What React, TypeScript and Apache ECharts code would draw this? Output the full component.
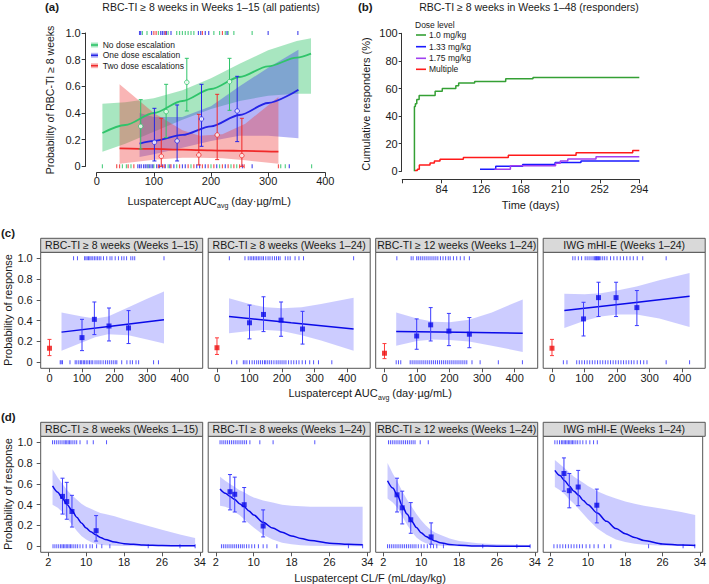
import React, { useEffect, useRef } from "react";
import * as echarts from "echarts";

const FONT = '"Liberation Sans", Arial, Helvetica, sans-serif';

// ===================== Panel (a) =====================
const aGreenCurveX = [10, 50, 100, 150, 200, 250, 300, 350, 375];
const aGreenCurveY = [0.25, 0.31, 0.4, 0.49, 0.58, 0.67, 0.75, 0.815, 0.845];
const aGreenBandHi = [0.47, 0.48, 0.51, 0.57, 0.66, 0.77, 0.87, 0.94, 0.96];
const aGreenBandLo = [0.11, 0.17, 0.26, 0.35, 0.43, 0.49, 0.53, 0.545, 0.545];
const aBlueCurveX = [75, 100, 150, 200, 250, 300, 353];
const aBlueCurveY = [0.17, 0.19, 0.235, 0.3, 0.385, 0.475, 0.575];
const aBlueBandHi = [0.4, 0.37, 0.37, 0.45, 0.6, 0.74, 0.875];
const aBlueBandLo = [0.07, 0.09, 0.14, 0.19, 0.23, 0.23, 0.21];
const aRedCurveX = [40, 100, 150, 180, 220, 260, 318];
const aRedCurveY = [0.135, 0.13, 0.125, 0.122, 0.118, 0.115, 0.11];
const aRedBandHi = [0.615, 0.4, 0.27, 0.23, 0.24, 0.32, 0.52];
const aRedBandLo = [0.02, 0.05, 0.065, 0.065, 0.06, 0.045, 0.02];

const aGreenPtX = [77, 121.5, 157.7, 232.4];
const aGreenPtY = [0.3, 0.41, 0.63, 0.635];
const aGreenPtLo = [0.13, 0.215, 0.415, 0.42];
const aGreenPtHi = [0.5, 0.615, 0.81, 0.81];
const aBluePtX = [101, 140.7, 183.4, 245.8];
const aBluePtY = [0.18, 0.19, 0.355, 0.415];
const aBluePtLo = [0.04, 0.04, 0.15, 0.185];
const aBluePtHi = [0.435, 0.46, 0.615, 0.675];
const aRedPtX = [113, 178.7, 210.8, 254];
const aRedPtY = [0.075, 0.085, 0.235, 0.08];
const aRedPtLo = [0.0, 0.01, 0.05, 0.0];
const aRedPtHi = [0.36, 0.39, 0.54, 0.36];

const aGreenRugTop = [80, 88, 108, 125, 140, 145, 150, 155, 160, 165, 170, 205, 215, 225, 230, 240, 272];
const aBlueRugTop = [75, 77, 96, 112, 115, 118, 122, 130, 178, 182, 190, 196, 228, 300, 352];
const aRedRugTop = [100, 104, 120, 185, 220];
const aGreenRugBot = [10, 45, 52, 60, 90, 100, 125, 140, 165, 200, 215, 235, 245, 322, 330, 376];
const aBlueRugBot = [72, 75, 78, 82, 85, 88, 92, 95, 98, 105, 110, 115, 120, 128, 135, 150, 155, 175, 180, 190, 210, 225, 255, 272, 337];
const aRedRugBot = [35, 40, 55, 65, 108, 118, 130, 145, 160, 170, 185, 195, 205, 220, 230, 240, 250, 258, 318];

const aLegendLabels = ["No dose escalation", "One dose escalation", "Two dose escalations"];

// ===================== Panel (b) =====================
const bGreenX = [55, 55, 56, 57.5, 60, 77, 84.6, 99, 102, 119, 152, 181, 294];
const bGreenY = [0, 47, 49, 52, 55, 58, 60, 62, 64, 65, 67, 68, 68];
const bBlueX = [124.7, 141.4, 170, 204.5, 232, 294];
const bBlueY = [1.4, 3.6, 5.0, 6.3, 7.5, 7.5];
const bPurpleX = [140, 157, 205, 210, 218, 248, 294];
const bPurpleY = [1.4, 4.0, 5.8, 7.5, 9.0, 10.6, 10.6];
const bRedX = [55.6, 58.1, 60.2, 71.6, 76.2, 82.2, 107, 154.8, 226.8, 287, 294];
const bRedY = [0.5, 1.5, 4.5, 6, 7.5, 8.7, 10, 11.7, 13.5, 15, 15];
const bLegendLabels = ["1.0 mg/kg", "1.33 mg/kg", "1.75 mg/kg", "Multiple"];

// ===================== Panel (c) =====================
const stripTitles = [
  "RBC-TI \u2265 8 weeks (Weeks 1\u201315)",
  "RBC-TI \u2265 8 weeks (Weeks 1\u201324)",
  "RBC-TI \u2265 12 weeks (Weeks 1\u201324)",
  "IWG mHI-E (Weeks 1\u201324)",
];
const cTicks = [0, 100, 200, 300, 400];
const probTicks = [0, 0.2, 0.4, 0.6, 0.8, 1];

const c1LineX = [37, 195, 352];
const c1LineY = [0.29, 0.35, 0.41];
const c1BandX = [37, 100, 140, 180, 243, 300, 352];
const c1BandHi = [0.48, 0.44, 0.42, 0.44, 0.53, 0.61, 0.68];
const c1BandLo = [0.11, 0.19, 0.24, 0.27, 0.26, 0.22, 0.18];
const c1PtX = [100, 138, 183, 243];
const c1PtY = [0.237, 0.413, 0.349, 0.33];
const c1PtLo = [0.112, 0.266, 0.205, 0.18];
const c1PtHi = [0.413, 0.58, 0.522, 0.497];
const c1Placebo = [0.135, 0.064, 0.22];
const c1RugTop = [74, 86, 108, 112, 116, 120, 124, 128, 133, 138, 143, 148, 153, 158, 166, 176, 186, 192, 202, 212, 222, 229, 237, 250, 256, 262, 352];
const c1RugBot = [33, 36, 40, 63, 79, 84, 90, 95, 99, 104, 108, 113, 118, 123, 128, 133, 140, 146, 152, 158, 165, 172, 178, 184, 190, 196, 202, 207, 222, 238, 248, 255, 266, 274, 320, 335];

const c2LineX = [37, 228, 420];
const c2LineY = [0.44, 0.38, 0.32];
const c2BandX = [37, 100, 150, 200, 260, 320, 420];
const c2BandHi = [0.615, 0.56, 0.53, 0.52, 0.53, 0.56, 0.62];
const c2BandLo = [0.28, 0.3, 0.31, 0.3, 0.26, 0.21, 0.11];
const c2PtX = [100, 143, 197, 263];
const c2PtY = [0.38, 0.46, 0.405, 0.32];
const c2PtLo = [0.225, 0.295, 0.25, 0.175];
const c2PtHi = [0.55, 0.63, 0.58, 0.49];
const c2Placebo = [0.14, 0.075, 0.235];
const c2RugTop = [38, 86, 96, 102, 107, 112, 117, 122, 127, 132, 138, 143, 150, 157, 163, 170, 177, 183, 189, 194, 210, 218, 225, 240, 252, 266, 420];
const c2RugBot = [45, 61, 81, 86, 92, 100, 108, 115, 122, 128, 134, 140, 146, 150, 156, 162, 168, 175, 182, 188, 194, 200, 206, 212, 220, 228, 236, 244, 252, 262, 272, 285, 297, 312, 353];

const c3LineX = [36, 230, 425];
const c3LineY = [0.295, 0.288, 0.28];
const c3BandX = [36, 100, 150, 200, 260, 330, 425];
const c3BandHi = [0.48, 0.42, 0.39, 0.385, 0.41, 0.48, 0.605];
const c3BandLo = [0.16, 0.205, 0.22, 0.215, 0.2, 0.16, 0.1];
const c3PtX = [99, 142, 198, 261];
const c3PtY = [0.253, 0.36, 0.3, 0.27];
const c3PtLo = [0.125, 0.205, 0.16, 0.14];
const c3PtHi = [0.417, 0.526, 0.47, 0.43];
const c3Placebo = [0.087, 0.035, 0.18];
const c3RugTop = [38, 82, 88, 99, 104, 110, 116, 122, 128, 134, 140, 146, 152, 158, 164, 172, 180, 188, 196, 202, 212, 222, 233, 245, 261];
const c3RugBot = [36, 43, 50, 79, 85, 91, 97, 103, 109, 115, 121, 127, 133, 139, 145, 151, 157, 163, 169, 175, 181, 187, 193, 199, 205, 211, 217, 223, 229, 235, 241, 247, 253, 269, 294, 350, 424];

const c4LineX = [38, 230, 423];
const c4LineY = [0.497, 0.566, 0.635];
const c4BandX = [38, 100, 150, 200, 260, 330, 423];
const c4BandHi = [0.66, 0.655, 0.665, 0.69, 0.73, 0.79, 0.86];
const c4BandLo = [0.33, 0.4, 0.44, 0.46, 0.46, 0.42, 0.34];
const c4PtX = [97, 143, 197, 261];
const c4PtY = [0.417, 0.622, 0.622, 0.526];
const c4PtLo = [0.253, 0.44, 0.44, 0.353];
const c4PtHi = [0.577, 0.77, 0.77, 0.69];
const c4Placebo = [0.135, 0.064, 0.22];
const c4RugTop = [64, 71, 81, 91, 102, 108, 114, 120, 126, 130, 133, 135, 137, 139, 141, 143, 146, 150, 156, 162, 169, 180, 190, 200, 210, 220, 230, 240, 250, 262, 279, 351];
const c4RugBot = [35, 46, 76, 84, 92, 100, 108, 116, 124, 132, 140, 148, 156, 164, 172, 180, 188, 196, 204, 212, 220, 228, 236, 244, 252, 262, 272, 282, 292, 351, 423];

// ===================== Panel (d) =====================
const dTicks = [2, 10, 18, 26, 34];

const d1CurveX = [2.9, 4, 5, 6, 7, 8, 9, 10, 11, 12, 13, 14, 16, 18, 22, 26, 30, 33];
const d1CurveY = [0.58, 0.52, 0.46, 0.4, 0.345, 0.28, 0.225, 0.175, 0.14, 0.11, 0.085, 0.065, 0.04, 0.025, 0.012, 0.007, 0.005, 0.004];
const d1BandHi = [0.74, 0.66, 0.6, 0.54, 0.49, 0.45, 0.41, 0.38, 0.36, 0.34, 0.32, 0.31, 0.29, 0.26, 0.21, 0.16, 0.11, 0.08];
const d1BandLo = [0.4, 0.37, 0.33, 0.27, 0.21, 0.15, 0.1, 0.065, 0.04, 0.025, 0.015, 0.01, 0.005, 0.003, 0.001, 0, 0, 0];
const d1PtX = [5.0, 5.9, 7.0, 12.1];
const d1PtY = [0.48, 0.43, 0.335, 0.15];
const d1PtLo = [0.31, 0.26, 0.185, 0.05];
const d1PtHi = [0.655, 0.615, 0.49, 0.295];
const d1RugTop = [2.9, 3.3, 3.7, 4.1, 4.5, 4.9, 5.3, 5.6, 5.9, 6.2, 6.5, 6.8, 7.2, 7.6, 8.0, 8.7, 10.2, 11.5, 14.3];
const d1RugBot = [3.0, 3.4, 3.8, 4.2, 4.6, 4.9, 5.2, 5.5, 5.8, 6.1, 6.4, 6.7, 7.0, 7.4, 7.8, 8.2, 8.7, 9.3, 10.0, 10.8, 11.3, 12.2, 13.3, 15.0, 23.1, 29.8, 33.0];

const d2CurveX = [2.9, 4, 5, 6, 7, 8, 9, 10, 12, 14, 16, 18, 20, 22, 26, 30, 33];
const d2CurveY = [0.55, 0.51, 0.48, 0.45, 0.41, 0.38, 0.34, 0.3, 0.23, 0.175, 0.135, 0.1, 0.075, 0.055, 0.03, 0.02, 0.015];
const d2BandHi = [0.67, 0.63, 0.6, 0.57, 0.54, 0.52, 0.49, 0.47, 0.44, 0.42, 0.4, 0.39, 0.385, 0.38, 0.38, 0.38, 0.38];
const d2BandLo = [0.39, 0.38, 0.36, 0.33, 0.3, 0.26, 0.22, 0.18, 0.11, 0.065, 0.035, 0.02, 0.01, 0.006, 0.002, 0.001, 0];
const d2PtX = [5.0, 6.0, 8.0, 12.0];
const d2PtY = [0.525, 0.5, 0.4, 0.195];
const d2PtLo = [0.35, 0.33, 0.235, 0.09];
const d2PtHi = [0.69, 0.665, 0.565, 0.35];
const d2RugTop = [2.9, 3.3, 3.7, 4.1, 4.5, 4.9, 5.3, 5.7, 6.1, 6.5, 6.9, 7.3, 7.7, 8.1, 8.5, 9.2, 11.3, 14.1, 22.9];
const d2RugBot = [3.2, 3.6, 4.0, 4.4, 4.8, 5.2, 5.6, 6.0, 6.4, 6.8, 7.2, 7.6, 8.0, 8.5, 9.0, 9.6, 10.2, 11.0, 12.0, 12.8, 14.9, 30.0, 33.0];

const d3CurveX = [2.9, 4, 5, 6, 7, 8, 9, 10, 11, 12, 13, 14, 16, 18, 22, 26, 30, 33];
const d3CurveY = [0.63, 0.56, 0.49, 0.39, 0.31, 0.24, 0.18, 0.13, 0.095, 0.07, 0.05, 0.035, 0.018, 0.009, 0.003, 0.001, 0.001, 0.001];
const d3BandHi = [0.8, 0.7, 0.62, 0.53, 0.45, 0.38, 0.31, 0.25, 0.2, 0.16, 0.13, 0.11, 0.075, 0.05, 0.03, 0.02, 0.015, 0.012];
const d3BandLo = [0.46, 0.42, 0.37, 0.29, 0.21, 0.14, 0.085, 0.05, 0.03, 0.018, 0.01, 0.006, 0.002, 0.001, 0, 0, 0, 0];
const d3PtX = [4.9, 6.0, 7.8, 12.1];
const d3PtY = [0.495, 0.37, 0.255, 0.09];
const d3PtLo = [0.33, 0.215, 0.125, 0.02];
const d3PtHi = [0.655, 0.53, 0.42, 0.225];
const d3RugTop = [3.1, 3.5, 3.9, 4.3, 4.7, 5.1, 5.5, 5.9, 6.3, 6.7, 7.1, 7.5, 7.9, 8.3, 8.7, 9.8, 11.5];
const d3RugBot = [2.9, 3.3, 3.7, 4.1, 4.5, 4.9, 5.3, 5.7, 6.1, 6.5, 6.9, 7.3, 7.7, 8.1, 8.5, 8.9, 9.4, 10.0, 10.6, 11.3, 12.0, 12.6, 13.3, 14.7, 23.0, 30.2, 33.0];

const d4CurveX = [2.9, 4, 5, 6, 7, 8, 9, 10, 12, 14, 16, 18, 20, 22, 26, 30, 33];
const d4CurveY = [0.73, 0.68, 0.63, 0.58, 0.53, 0.49, 0.44, 0.4, 0.32, 0.24, 0.17, 0.12, 0.085, 0.055, 0.022, 0.012, 0.008];
const d4BandHi = [0.83, 0.79, 0.75, 0.71, 0.67, 0.64, 0.61, 0.58, 0.53, 0.49, 0.46, 0.43, 0.41, 0.39, 0.36, 0.33, 0.3];
const d4BandLo = [0.57, 0.54, 0.5, 0.45, 0.41, 0.36, 0.31, 0.26, 0.17, 0.11, 0.065, 0.04, 0.025, 0.015, 0.006, 0.003, 0.002];
const d4PtX = [4.85, 6.0, 7.9, 11.9];
const d4PtY = [0.7, 0.535, 0.57, 0.395];
const d4PtLo = [0.53, 0.37, 0.39, 0.225];
const d4PtHi = [0.85, 0.7, 0.73, 0.55];
const d4RugTop = [2.9, 3.4, 3.9, 4.3, 4.6, 4.9, 5.2, 5.5, 5.8, 6.1, 6.4, 6.7, 7.0, 7.4, 7.8, 8.3, 8.9, 9.6, 10.4, 11.2, 12.0];
const d4RugBot = [2.7, 3.4, 4.0, 4.6, 5.2, 5.8, 6.4, 7.0, 7.6, 8.2, 8.8, 9.6, 10.4, 11.3, 12.2, 13.5, 14.9, 23.0, 30.4, 32.9];

// ===================== styling / layout =====================
const A_GREEN = "#2fc46a";
const A_BLUE = "#2424e6";
const A_RED = "#f02a2a";
const A_GREEN_FILL = "rgba(47,196,106,0.42)";
const A_BLUE_FILL = "rgba(60,60,235,0.38)";
const A_RED_FILL = "rgba(240,60,60,0.38)";
const B_GREEN = "#34a034";
const B_BLUE = "#1a1aff";
const B_PURPLE = "#a040f0";
const B_RED = "#ff1a1a";
const C_BLUE = "#0a0ae8";
const C_BAND = "rgba(40,40,255,0.24)";
const C_RED = "#ee1010";
const AXIS = "#333";
const TEXT = "#1a1a1a";

const PANEL_L = [40.7, 208.2, 375.7, 543.2];
const PANEL_W = 162;
const C_TOP = 252.3;
const D_TOP = 436.3;
const PANEL_H = 116;
const STRIP_H = 14;

function lineSeries(gi: number, xs: number[], ys: number[], color: string, width = 1.5, smooth: any = 0.3) {
  return {
    type: "line", xAxisIndex: gi, yAxisIndex: gi,
    data: xs.map((x, i) => [x, ys[i]]),
    showSymbol: false, symbol: "none", smooth, smoothMonotone: "x",
    lineStyle: { color, width }, itemStyle: { color }, clip: false, silent: true, z: 5,
  };
}
function stepSeries(gi: number, xs: number[], ys: number[], color: string) {
  return {
    type: "line", xAxisIndex: gi, yAxisIndex: gi, step: "end",
    data: xs.map((x, i) => [x, ys[i]]),
    showSymbol: false, symbol: "none",
    lineStyle: { color, width: 1.5 }, itemStyle: { color }, silent: true, z: 5,
  };
}
function bandSeries(gi: number, xs: number[], lo: number[], hi: number[], fill: string, z = 2) {
  return {
    type: "custom", xAxisIndex: gi, yAxisIndex: gi, silent: true, z, clip: false,
    data: [[xs[0], lo[0]]], encode: { x: 0, y: 1 },
    renderItem: (_p: any, api: any) => {
      const pts: number[][] = [];
      for (let i = 0; i < xs.length; i++) pts.push(api.coord([xs[i], hi[i]]));
      for (let i = xs.length - 1; i >= 0; i--) pts.push(api.coord([xs[i], lo[i]]));
      return { type: "polygon", shape: { points: pts }, style: { fill, stroke: "none" } };
    },
  };
}
function errSeries(gi: number, xs: number[], lo: number[], hi: number[], color: string, cap = 2, width = 1) {
  return {
    type: "custom", xAxisIndex: gi, yAxisIndex: gi, silent: true, z: 6, clip: false,
    data: xs.map((x, i) => [x, lo[i], hi[i]]), encode: { x: 0, y: [1, 2] },
    renderItem: (_p: any, api: any) => {
      const x = api.value(0);
      const a = api.coord([x, api.value(1)]);
      const b = api.coord([x, api.value(2)]);
      const st = { stroke: color, lineWidth: width };
      return {
        type: "group",
        children: [
          { type: "line", shape: { x1: a[0], y1: a[1], x2: b[0], y2: b[1] }, style: st },
          { type: "line", shape: { x1: a[0] - cap, y1: a[1], x2: a[0] + cap, y2: a[1] }, style: st },
          { type: "line", shape: { x1: b[0] - cap, y1: b[1], x2: b[0] + cap, y2: b[1] }, style: st },
        ],
      };
    },
  };
}
function pointSeries(gi: number, xs: number[], ys: number[], symbol: string, size: number, itemStyle: any) {
  return {
    type: "scatter", xAxisIndex: gi, yAxisIndex: gi,
    data: xs.map((x, i) => [x, ys[i]]), symbol, symbolSize: size, itemStyle, silent: true, z: 7, clip: false,
  };
}
function rugSeries(gi: number, xs: number[], y: number, color: string, h = 5, w = 1.2) {
  return {
    type: "scatter", xAxisIndex: gi, yAxisIndex: gi,
    data: xs.map((x) => [x, y]), symbol: "rect", symbolSize: [w, h],
    itemStyle: { color }, silent: true, z: 4, clip: false,
  };
}
function txt(x: number, y: number, text: string, extra: any = {}, rotation = 0) {
  return {
    type: "text", x, y, rotation, z: 20, silent: true,
    style: {
      text, fontSize: 11, fontFamily: FONT, fill: TEXT,
      textAlign: "center", textVerticalAlign: "middle", ...extra,
    },
  };
}
const fmtProb = (v: number) => (Math.abs(v) < 1e-9 ? "0" : v.toFixed(1));

export default function App() {
  const ref = useRef<HTMLDivElement>(null);
  useEffect(() => {
    if (!ref.current) return;
    const chart = echarts.init(ref.current, null, { renderer: "svg" });
    const grids: any[] = [];
    const xAxes: any[] = [];
    const yAxes: any[] = [];
    const series: any[] = [];
    const graphic: any[] = [];
    const axisLabel = { fontSize: 11, color: TEXT, fontFamily: FONT };

    // ---------- (a) ----------
    grids.push({ left: 96.7, top: 33, width: 228.6, height: 133.3 });
    xAxes.push({
      gridIndex: 0, type: "value", min: 0, max: 400, interval: 100, offset: 6.4,
      axisLine: { show: true, onZero: false, lineStyle: { color: AXIS, width: 1 } },
      axisTick: { show: true, length: 4, lineStyle: { color: AXIS } },
      axisLabel: { ...axisLabel, margin: 3 }, splitLine: { show: false },
    });
    yAxes.push({
      gridIndex: 0, type: "value", min: 0, max: 1, interval: 0.2, offset: 11,
      axisLine: { show: true, onZero: false, lineStyle: { color: AXIS, width: 1 } },
      axisTick: { show: true, length: 4, lineStyle: { color: AXIS } },
      axisLabel: { ...axisLabel, margin: 5, formatter: fmtProb }, splitLine: { show: false },
    });
    series.push(bandSeries(0, aGreenCurveX, aGreenBandLo, aGreenBandHi, A_GREEN_FILL, 1));
    series.push(bandSeries(0, aBlueCurveX, aBlueBandLo, aBlueBandHi, A_BLUE_FILL, 2));
    series.push(bandSeries(0, aRedCurveX, aRedBandLo, aRedBandHi, A_RED_FILL, 3));
    series.push(lineSeries(0, aGreenCurveX, aGreenCurveY, A_GREEN, 1.8));
    series.push(lineSeries(0, aBlueCurveX, aBlueCurveY, A_BLUE, 1.8));
    series.push(lineSeries(0, aRedCurveX, aRedCurveY, A_RED, 1.8));
    series.push(errSeries(0, aGreenPtX, aGreenPtLo, aGreenPtHi, A_GREEN, 2));
    series.push(errSeries(0, aBluePtX, aBluePtLo, aBluePtHi, A_BLUE, 2));
    series.push(errSeries(0, aRedPtX, aRedPtLo, aRedPtHi, A_RED, 2));
    series.push(pointSeries(0, aGreenPtX, aGreenPtY, "circle", 4.5, { color: "#fff", borderColor: A_GREEN, borderWidth: 1 }));
    series.push(pointSeries(0, aBluePtX, aBluePtY, "circle", 4.5, { color: "#fff", borderColor: A_BLUE, borderWidth: 1 }));
    series.push(pointSeries(0, aRedPtX, aRedPtY, "circle", 4.5, { color: "#fff", borderColor: A_RED, borderWidth: 1 }));
    series.push(rugSeries(0, aGreenRugTop, 1, A_GREEN, 4));
    series.push(rugSeries(0, aBlueRugTop, 1, A_BLUE, 4));
    series.push(rugSeries(0, aRedRugTop, 1, A_RED, 4));
    series.push(rugSeries(0, aGreenRugBot, 0, A_GREEN, 4));
    series.push(rugSeries(0, aBlueRugBot, 0, A_BLUE, 4));
    series.push(rugSeries(0, aRedRugBot, 0, A_RED, 4));

    graphic.push(txt(45, 7, "(a)", { fontWeight: "bold", textAlign: "left", fontSize: 11.5 }));
    graphic.push(txt(211, 7, "RBC-TI \u2265 8 weeks in Weeks 1\u201315 (all patients)", { fontSize: 10.5 }));
    graphic.push(txt(50, 100, "Probability of RBC-TI \u2265 8 weeks", { fontSize: 10.5 }, Math.PI / 2));
    graphic.push(txt(209, 201, "{a|Luspatercept AUC}{s|avg}{a| (day\u00b7\u00b5g/mL)}", {
      fontSize: 11,
      rich: {
        a: { fontSize: 11, fontFamily: FONT, fill: TEXT, lineHeight: 16, verticalAlign: "middle" },
        s: { fontSize: 7, fontFamily: FONT, fill: TEXT, lineHeight: 16, verticalAlign: "bottom" },
      },
    }));
    const aLegColors = [A_GREEN, A_BLUE, A_RED];
    const aLegFills = [A_GREEN_FILL, A_BLUE_FILL, A_RED_FILL];
    const aLegY = [45, 55.3, 65.7];
    aLegendLabels.forEach((lab, i) => {
      graphic.push({ type: "rect", shape: { x: 91, y: aLegY[i] - 2.5, width: 7, height: 5 }, style: { fill: aLegFills[i] }, z: 20, silent: true });
      graphic.push({ type: "line", shape: { x1: 91, y1: aLegY[i], x2: 98, y2: aLegY[i] }, style: { stroke: aLegColors[i], lineWidth: 1.6 }, z: 21, silent: true });
      graphic.push(txt(102.7, aLegY[i], lab, { fontSize: 8.5, textAlign: "left" }));
    });

    // ---------- (b) ----------
    grids.push({ left: 402.2, top: 33.3, width: 237.1, height: 138 });
    xAxes.push({
      gridIndex: 1, type: "value", min: 42, max: 294, interval: 42, offset: 8,
      axisLine: { show: true, onZero: false, lineStyle: { color: AXIS, width: 1 } },
      axisTick: { show: true, length: 4, lineStyle: { color: AXIS } },
      axisLabel: { ...axisLabel, margin: 4, formatter: (v: number) => (v === 42 ? "" : String(v)) },
      splitLine: { show: false },
    });
    yAxes.push({
      gridIndex: 1, type: "value", min: 0, max: 100, interval: 20, offset: 0.5,
      axisLine: { show: true, onZero: false, lineStyle: { color: AXIS, width: 1 } },
      axisTick: { show: true, length: 3, lineStyle: { color: AXIS } },
      axisLabel: { ...axisLabel, margin: 4 }, splitLine: { show: false },
    });
    series.push(stepSeries(1, bGreenX, bGreenY, B_GREEN));
    series.push(stepSeries(1, bBlueX, bBlueY, B_BLUE));
    series.push(stepSeries(1, bPurpleX, bPurpleY, B_PURPLE));
    series.push(stepSeries(1, bRedX, bRedY, B_RED));
    graphic.push(txt(358, 7, "(b)", { fontWeight: "bold", textAlign: "left", fontSize: 11.5 }));
    graphic.push(txt(529, 7, "RBC-TI \u2265 8 weeks in Weeks 1\u201348 (responders)", { fontSize: 10.5 }));
    graphic.push(txt(366, 104, "Cumulative responders (%)", { fontSize: 11 }, Math.PI / 2));
    graphic.push(txt(530.7, 205, "Time (days)", { fontSize: 11 }));
    graphic.push(txt(415, 25, "Dose level", { fontSize: 8.5, textAlign: "left" }));
    const bLegColors = [B_GREEN, B_BLUE, B_PURPLE, B_RED];
    const bLegY = [35, 46.7, 58.3, 69.3];
    bLegendLabels.forEach((lab, i) => {
      graphic.push({ type: "line", shape: { x1: 416, y1: bLegY[i], x2: 426, y2: bLegY[i] }, style: { stroke: bLegColors[i], lineWidth: 1.6 }, z: 21, silent: true });
      graphic.push(txt(429, bLegY[i], lab, { fontSize: 8.5, textAlign: "left" }));
    });

    // ---------- (c) & (d) facet panels ----------
    const cPanels = [
      { bx: c1BandX, lo: c1BandLo, hi: c1BandHi, lx: c1LineX, ly: c1LineY, px: c1PtX, py: c1PtY, plo: c1PtLo, phi: c1PtHi, pl: c1Placebo, rt: c1RugTop, rb: c1RugBot },
      { bx: c2BandX, lo: c2BandLo, hi: c2BandHi, lx: c2LineX, ly: c2LineY, px: c2PtX, py: c2PtY, plo: c2PtLo, phi: c2PtHi, pl: c2Placebo, rt: c2RugTop, rb: c2RugBot },
      { bx: c3BandX, lo: c3BandLo, hi: c3BandHi, lx: c3LineX, ly: c3LineY, px: c3PtX, py: c3PtY, plo: c3PtLo, phi: c3PtHi, pl: c3Placebo, rt: c3RugTop, rb: c3RugBot },
      { bx: c4BandX, lo: c4BandLo, hi: c4BandHi, lx: c4LineX, ly: c4LineY, px: c4PtX, py: c4PtY, plo: c4PtLo, phi: c4PtHi, pl: c4Placebo, rt: c4RugTop, rb: c4RugBot },
    ];
    const dPanels = [
      { bx: d1CurveX, lo: d1BandLo, hi: d1BandHi, lx: d1CurveX, ly: d1CurveY, px: d1PtX, py: d1PtY, plo: d1PtLo, phi: d1PtHi, pl: null, rt: d1RugTop, rb: d1RugBot },
      { bx: d2CurveX, lo: d2BandLo, hi: d2BandHi, lx: d2CurveX, ly: d2CurveY, px: d2PtX, py: d2PtY, plo: d2PtLo, phi: d2PtHi, pl: null, rt: d2RugTop, rb: d2RugBot },
      { bx: d3CurveX, lo: d3BandLo, hi: d3BandHi, lx: d3CurveX, ly: d3CurveY, px: d3PtX, py: d3PtY, plo: d3PtLo, phi: d3PtHi, pl: null, rt: d3RugTop, rb: d3RugBot },
      { bx: d4CurveX, lo: d4BandLo, hi: d4BandHi, lx: d4CurveX, ly: d4CurveY, px: d4PtX, py: d4PtY, plo: d4PtLo, phi: d4PtHi, pl: null, rt: d4RugTop, rb: d4RugBot },
    ];

    const addFacet = (panels: any[], top: number, xmin: number, xmax: number, ticks: number[], smooth: any) => {
      panels.forEach((p, i) => {
        const gi = grids.length;
        grids.push({ left: PANEL_L[i], top, width: PANEL_W, height: PANEL_H, show: true, borderColor: "#555", borderWidth: 1, backgroundColor: "transparent" });
        xAxes.push({
          gridIndex: gi, type: "value", min: xmin, max: xmax,
          axisLine: { show: false, onZero: false },
          axisTick: { show: true, length: 4, customValues: ticks, lineStyle: { color: "#555" } },
          axisLabel: { ...axisLabel, margin: 4, customValues: ticks },
          splitLine: { show: false },
        });
        yAxes.push({
          gridIndex: gi, type: "value", min: -0.058, max: 1.058,
          axisLine: { show: false, onZero: false },
          axisTick: { show: i === 0, length: 4, customValues: probTicks, lineStyle: { color: "#555" } },
          axisLabel: { ...axisLabel, show: i === 0, margin: 8, customValues: probTicks, formatter: fmtProb },
          splitLine: { show: false },
        });
        series.push(bandSeries(gi, p.bx, p.lo, p.hi, C_BAND, 2));
        series.push(lineSeries(gi, p.lx, p.ly, C_BLUE, 1.5, smooth));
        series.push(errSeries(gi, p.px, p.plo, p.phi, "#3a3aff", 2, 1));
        series.push(pointSeries(gi, p.px, p.py, "rect", 5, { color: C_BLUE }));
        if (p.pl) {
          series.push(errSeries(gi, [0], [p.pl[1]], [p.pl[2]], "#ff3a3a", 2, 1));
          series.push(pointSeries(gi, [0], [p.pl[0]], "rect", 5, { color: C_RED }));
        }
        series.push(rugSeries(gi, p.rt, 1, "#2a2aff", 4, 1));
        series.push(rugSeries(gi, p.rb, 0, "#2a2aff", 4, 1));
        graphic.push({ type: "rect", shape: { x: PANEL_L[i], y: top - STRIP_H, width: PANEL_W, height: STRIP_H }, style: { fill: "#d9d9d9", stroke: "#555", lineWidth: 1 }, z: 15, silent: true });
        graphic.push(txt(PANEL_L[i] + PANEL_W / 2, top - STRIP_H / 2, stripTitles[i], { fontSize: 10.5 }));
      });
    };
    addFacet(cPanels, C_TOP, -27, 471, cTicks, false);
    addFacet(dPanels, D_TOP, 0.4, 34.6, dTicks, 0.3);

    graphic.push(txt(1, 233, "(c)", { fontWeight: "bold", textAlign: "left", fontSize: 11.5 }));
    graphic.push(txt(1, 416.7, "(d)", { fontWeight: "bold", textAlign: "left", fontSize: 11.5 }));
    graphic.push(txt(8, 310, "Probability of response", { fontSize: 11 }, Math.PI / 2));
    graphic.push(txt(8, 494, "Probability of response", { fontSize: 11 }, Math.PI / 2));
    graphic.push(txt(370, 393, "{a|Luspatercept AUC}{s|avg}{a| (day\u00b7\u00b5g/mL)}", {
      fontSize: 11,
      rich: {
        a: { fontSize: 11, fontFamily: FONT, fill: TEXT, lineHeight: 16, verticalAlign: "middle" },
        s: { fontSize: 7, fontFamily: FONT, fill: TEXT, lineHeight: 16, verticalAlign: "bottom" },
      },
    }));
    graphic.push(txt(370, 578, "Luspatercept CL/F (mL/day/kg)", { fontSize: 11 }));

    chart.setOption({
      animation: false,
      backgroundColor: "#ffffff",
      textStyle: { fontFamily: FONT },
      grid: grids,
      xAxis: xAxes,
      yAxis: yAxes,
      series,
      graphic,
    });
    return () => chart.dispose();
  }, []);
  return <div ref={ref} style={{ position: "absolute", left: 0, top: 0, width: 709, height: 584 }} />;
}
